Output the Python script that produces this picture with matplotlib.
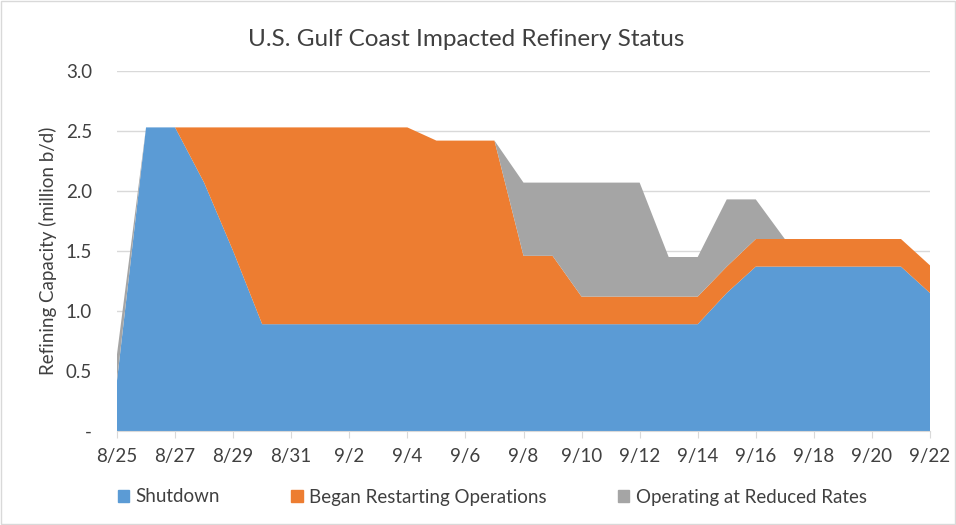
import matplotlib
matplotlib.use("Agg")
from matplotlib import pyplot as plt
from matplotlib.patches import Rectangle

days = ["8/25", "8/26", "8/27", "8/28", "8/29", "8/30", "8/31", "9/1", "9/2", "9/3",
        "9/4", "9/5", "9/6", "9/7", "9/8", "9/9", "9/10", "9/11", "9/12", "9/13",
        "9/14", "9/15", "9/16", "9/17", "9/18", "9/19", "9/20", "9/21", "9/22"]
shutdown = [0.42, 2.53, 2.53, 2.07, 1.50, 0.89, 0.89, 0.89, 0.89, 0.89,
            0.89, 0.89, 0.89, 0.89, 0.89, 0.89, 0.89, 0.89, 0.89, 0.89,
            0.89, 1.15, 1.37, 1.37, 1.37, 1.37, 1.37, 1.37, 1.15]
restarting = [0.0, 0.0, 0.0, 0.46, 1.03, 1.64, 1.64, 1.64, 1.64, 1.64,
              1.64, 1.53, 1.53, 1.53, 0.57, 0.57, 0.23, 0.23, 0.23, 0.23,
              0.23, 0.22, 0.23, 0.23, 0.23, 0.23, 0.23, 0.23, 0.23]
reduced = [0.22, 0.0, 0.0, 0.0, 0.0, 0.0, 0.0, 0.0, 0.0, 0.0,
           0.0, 0.0, 0.0, 0.0, 0.61, 0.61, 0.95, 0.95, 0.95, 0.33,
           0.33, 0.56, 0.33, 0.0, 0.0, 0.0, 0.0, 0.0, 0.0]
labels = ["Shutdown", "Began Restarting Operations", "Operating at Reduced Rates"]
colors = ["#5B9BD5", "#ED7D31", "#A5A5A5"]
yticks = [0, 0.5, 1.0, 1.5, 2.0, 2.5, 3.0]
ylabels = ["-", "0.5", "1.0", "1.5", "2.0", "2.5", "3.0"]

plt.rcParams['font.family'] = ['Lato', 'DejaVu Sans']

fig = plt.figure(figsize=(9.56, 5.25), dpi=100)
ax = fig.add_axes([117/956, 1-431/525, (930-117)/956, (431-71)/525])

x = list(range(len(days)))
ax.stackplot(x, shutdown, restarting, reduced, colors=colors, labels=labels, linewidth=0)

ax.set_xlim(0, len(days)-1)
ax.set_ylim(0, 3.0)
ax.set_yticks(yticks)
ax.set_yticklabels(ylabels, fontsize=13.5, color="#404040")
ax.set_xticks(x[::2])
ax.set_xticklabels(days[::2], fontsize=13.5, color="#404040")
ax.tick_params(axis="y", length=0, pad=18)
ax.tick_params(axis="x", length=5, color="#D9D9D9", pad=7)
ax.grid(axis="y", color="#D9D9D9", linewidth=1)
ax.set_axisbelow(True)
for s in ["top", "right", "left"]:
    ax.spines[s].set_visible(False)
ax.spines["bottom"].set_color("#D9D9D9")

ax.set_ylabel("Refining Capacity (million b/d)", fontsize=13.5, color="#404040", labelpad=6)
fig.text(0.488, 1-40/525, "U.S. Gulf Coast Impacted Refinery Status", ha="center", va="center",
         fontsize=17.5, color="#404040")

handles = [Rectangle((0, 0), 1, 1, color=c) for c in colors]
fig.legend(handles, labels, loc="center", bbox_to_anchor=(0.515, 1-497/525), ncol=3,
           frameon=False, fontsize=13.5, handlelength=0.6, handleheight=0.6,
           columnspacing=3.8, handletextpad=0.35, labelcolor="#404040")

fig.add_artist(Rectangle((0.001, 0.001), 0.998, 0.998, transform=fig.transFigure,
                         fill=False, edgecolor="#D9D9D9", linewidth=1))

fig.savefig("out.png", dpi=100)
